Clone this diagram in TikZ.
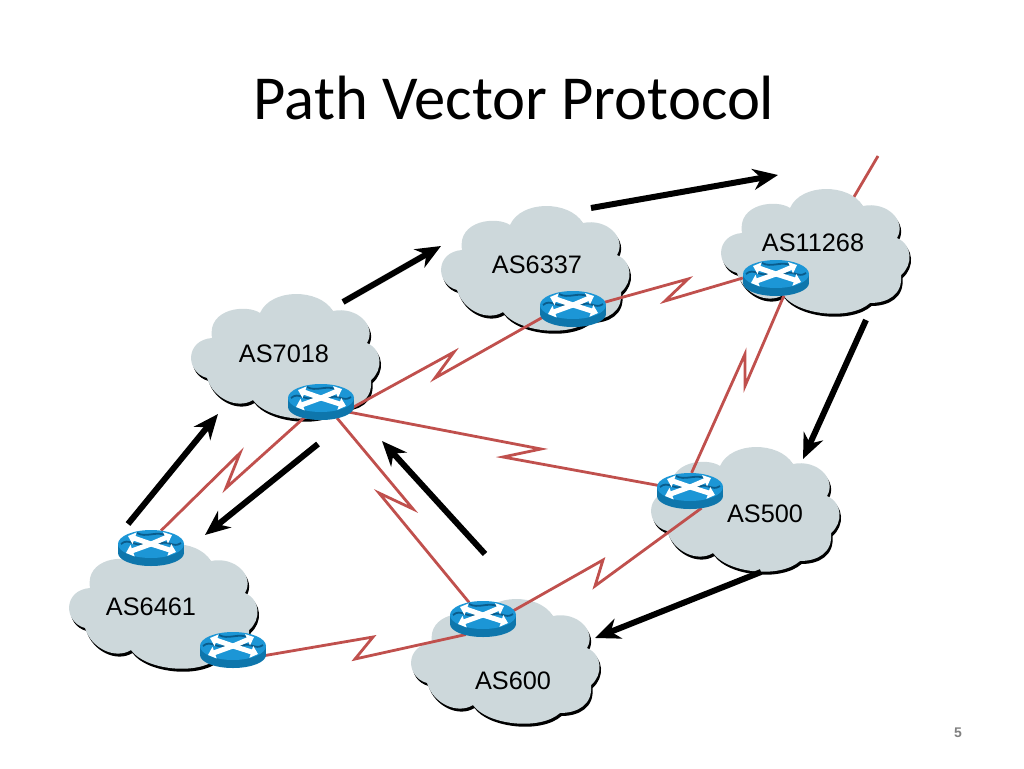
\documentclass[tikz,border=0pt]{standalone}
\usepackage{fontspec}
\setmainfont{Liberation Sans}
\newfontfamily\titlefont{Carlito}
\usetikzlibrary{arrows.meta, shapes.geometric}

\definecolor{cloudgray}{RGB}{205,216,219}
\definecolor{linkred}{RGB}{192,80,77}
\definecolor{routertop}{RGB}{28,150,214}
\definecolor{routerside}{RGB}{14,118,172}
\definecolor{routerdark}{RGB}{10,92,140}

\newcommand{\cloudpath}{(-78,20)
    .. controls (-72,40) and (-48,52) .. (-32,42)
    .. controls (-18,62) and (35,68) .. (55,50)
    .. controls (72,50) and (88,42) .. (86,22)
    .. controls (98,12) and (98,-8) .. (82,-15)
    .. controls (92,-32) and (72,-52) .. (48,-47)
    .. controls (34,-70) and (-14,-70) .. (-25,-45)
    .. controls (-38,-54) and (-78,-50) .. (-73,-20)
    .. controls (-100,-18) and (-100,14) .. (-78,20) -- cycle}

\tikzset{
    cloudpic/.pic={
        \fill[black] [shift={(1.5,3)}] \cloudpath;
        \fill[cloudgray] \cloudpath;
    },
    routerpic/.pic={
        \fill[routerside] (0,5) ellipse[x radius=33, y radius=13];
        \fill[routerside] (-33,-4) rectangle (33,5);
        \fill[routertop] (0,-4) ellipse[x radius=33, y radius=14];
        % dark waves on the top face
        \draw[routerdark, line width=1.8pt] (-30,-4) .. controls (-22,-11) and (-16,0) .. (-7,-5);
        \draw[routerdark, line width=1.8pt] (7,-3) .. controls (16,-10) and (22,1) .. (30,-5);
        \draw[routerdark, line width=1.8pt] (-14,-15) .. controls (-5,-10) and (5,-17) .. (14,-13);
        % white cross of arrows
        \foreach \tipx/\tipy in {-23/-12, 21/-13, -25/5, 25/4}
            \draw[white, line width=5pt, -{Triangle[length=7pt, width=12pt]}] (0,-4) -- (\tipx,\tipy);
    },
    routernode/.style={
        ellipse,
        minimum width=66pt,
        minimum height=36pt,
        inner sep=0pt
    },
    aslabel/.style={
        font=\fontsize{25.3}{30}\selectfont,
        text=black
    },
    serial/.style={
        draw=linkred,
        line width=2.8pt,
        line join=miter
    },
    advert/.style={
        -{Stealth[length=25pt, width=21pt, inset=8pt]},
        line width=6pt,
        black
    }
}

\begin{document}
\begin{tikzpicture}[x=1pt, y=-1pt]
\useasboundingbox (0,0) rectangle (1024,768);

% === Title and page number ===
\node[font=\titlefont\fontsize{62.6}{70}\selectfont] (title) at (514,98) {Path Vector Protocol};
\node[font=\bfseries\fontsize{14}{16}\selectfont, text=black!50] (page) at (958,733) {5};

% === Link leaving the top, behind the cloud ===
\coordinate (upstream) at (878,156);
\coordinate (upstreamend) at (821,253);
\draw[serial] (upstream) -- (upstreamend);

% === Clouds ===
\foreach \x/\y in {285/358, 535/270, 815/253, 745/511, 505/663, 163/608}
    \pic at (\x,\y) {cloudpic};

\node[aslabel] (as7018) at (284,354) {AS7018};
\node[aslabel] (as6337) at (537,265) {AS6337};
\node[aslabel] (as11268) at (813,243) {AS11268};
\node[aslabel] (as500) at (765,514) {AS500};
\node[aslabel] (as600) at (513,681) {AS600};
\node[aslabel] (as6461) at (151,607) {AS6461};

% === Routers ===
\foreach \name/\x/\y in {r7018/321/402, r6337/573/309, r11268/776/278, r500/690/491,
    r600/483/619, r6461a/151/548, r6461b/233/650}
    \node[routernode] (\name) at (\x,\y) {};

% === Serial links ===
\coordinate (za1) at (454,352);
\coordinate (za2) at (435,378);
\coordinate (zb1) at (541,449);
\coordinate (zb2) at (503,457);
\coordinate (zc1) at (413,509);
\coordinate (zc2) at (379,493);
\coordinate (zd1) at (226,488);
\coordinate (zd2) at (240,453);
\coordinate (ze1) at (373,637);
\coordinate (ze2) at (355,659);
\coordinate (zf1) at (603,560);
\coordinate (zf2) at (595,586);
\coordinate (zg1) at (745,354);
\coordinate (zg2) at (745,386);
\coordinate (zh1) at (688,279);
\coordinate (zh2) at (665,301);

\draw[serial] (r7018.-10) -- (za1) -- (za2) -- (r6337.195);
\draw[serial] (r7018.-20) -- (zb1) -- (zb2) -- (r500.170);
\draw[serial] (r7018.-45) -- (zc1) -- (zc2) -- (r600.130);
\draw[serial] (r7018.223) -- (zd1) -- (zd2) -- (r6461a.60);
\draw[serial] (r6461b.-10) -- (ze1) -- (ze2) -- (r600.222);
\draw[serial] (r600.15) -- (zf1) -- (zf2) -- (r500.-56);
\draw[serial] (r500.85) -- (zg1) -- (zg2) -- (r11268.-66);
\draw[serial] (r6337.12) -- (zh1) -- (zh2) -- (r11268.west);

\foreach \name in {r7018, r6337, r11268, r500, r600, r6461a, r6461b}
    \pic at (\name) {routerpic};

% === Advertisement arrows ===
\coordinate (adva1) at (591,208);
\coordinate (adva2) at (778,175);
\coordinate (advb1) at (343,302);
\coordinate (advb2) at (441,246);
\coordinate (advc1) at (128,524);
\coordinate (advc2) at (218,414);
\coordinate (advd1) at (318,444);
\coordinate (advd2) at (205,535);
\coordinate (adve1) at (485,554);
\coordinate (adve2) at (382,441);
\coordinate (advf1) at (866,320);
\coordinate (advf2) at (803,459);
\coordinate (advg1) at (761,572);
\coordinate (advg2) at (595,638);

\draw[advert] (adva1) -- (adva2);
\draw[advert] (advb1) -- (advb2);
\draw[advert] (advc1) -- (advc2);
\draw[advert] (advd1) -- (advd2);
\draw[advert] (adve1) -- (adve2);
\draw[advert] (advf1) -- (advf2);
\draw[advert] (advg1) -- (advg2);

\end{tikzpicture}
\end{document}
